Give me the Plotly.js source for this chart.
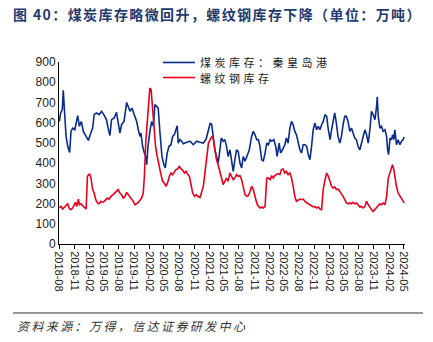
<!DOCTYPE html>
<html>
<head>
<meta charset="utf-8">
<script src="https://cdn.plot.ly/plotly-3.0.1.min.js"></script>
<style>
html,body{margin:0;padding:0;background:#fff;}
#chart{width:433px;height:342px;}
.gtitle{letter-spacing:1.4px;}
g.annotation[data-index="0"] text{letter-spacing:2.4px;}
g.annotation[data-index="1"] text, g.annotation[data-index="2"] text{letter-spacing:3.5px;}
</style>
</head>
<body>
<div id="chart"></div>
<script>
const coalDates = ["2018-08-03","2018-08-11","2018-08-21","2018-08-27","2018-09-03","2018-09-13","2018-09-23","2018-10-05","2018-10-13","2018-10-23","2018-11-05","2018-11-13","2018-11-23","2018-12-03","2018-12-15","2018-12-27","2019-01-13","2019-01-27","2019-02-07","2019-02-22","2019-03-03","2019-03-17","2019-04-03","2019-04-17","2019-05-01","2019-05-17","2019-05-27","2019-06-07","2019-06-17","2019-07-03","2019-07-17","2019-07-27","2019-08-07","2019-08-17","2019-09-01","2019-09-17","2019-09-27","2019-10-07","2019-10-19","2019-11-01","2019-11-17","2019-11-27","2019-12-07","2019-12-13","2019-12-23","2020-01-03","2020-01-11","2020-01-17","2020-01-25","2020-02-07","2020-02-17","2020-02-27","2020-03-07","2020-03-17","2020-03-27","2020-04-07","2020-04-19","2020-05-01","2020-05-09","2020-05-21","2020-06-01","2020-06-13","2020-06-23","2020-07-03","2020-07-13","2020-07-21","2020-07-27","2020-08-07","2020-08-17","2020-08-27","2020-09-17","2020-10-07","2020-10-27","2020-11-17","2020-12-07","2020-12-27","2021-01-13","2021-01-27","2021-02-07","2021-02-16","2021-02-25","2021-03-07","2021-03-17","2021-03-27","2021-04-07","2021-04-15","2021-04-27","2021-05-07","2021-05-17","2021-05-27","2021-06-07","2021-06-17","2021-06-27","2021-07-07","2021-07-17","2021-07-27","2021-08-07","2021-08-17","2021-08-27","2021-09-07","2021-09-17","2021-10-03","2021-10-17","2021-10-27","2021-11-07","2021-11-17","2021-11-27","2021-12-07","2021-12-17","2021-12-27","2022-01-07","2022-01-17","2022-01-27","2022-02-07","2022-02-16","2022-03-01","2022-03-13","2022-03-21","2022-04-03","2022-04-11","2022-04-23","2022-05-07","2022-05-17","2022-05-27","2022-06-07","2022-06-17","2022-06-27","2022-07-07","2022-07-17","2022-07-27","2022-08-07","2022-08-17","2022-08-27","2022-09-07","2022-09-17","2022-09-27","2022-10-07","2022-10-17","2022-10-27","2022-11-07","2022-11-17","2022-11-27","2022-12-07","2022-12-17","2022-12-27","2023-01-07","2023-01-17","2023-01-27","2023-02-07","2023-02-16","2023-02-25","2023-03-07","2023-03-17","2023-03-27","2023-04-07","2023-04-17","2023-04-27","2023-05-07","2023-05-17","2023-05-27","2023-06-07","2023-06-17","2023-06-27","2023-07-07","2023-07-17","2023-07-27","2023-08-07","2023-08-17","2023-08-27","2023-09-07","2023-09-17","2023-09-27","2023-10-07","2023-10-17","2023-10-27","2023-11-07","2023-11-17","2023-11-21","2023-11-27","2023-12-07","2023-12-17","2023-12-27","2024-01-07","2024-01-17","2024-01-23","2024-01-29","2024-02-07","2024-02-16","2024-02-22","2024-03-01","2024-03-07","2024-03-17","2024-03-27","2024-04-07","2024-04-17","2024-04-27","2024-05-03"];
const coalStock = [606,648,664,760,664,532,483,453,557,573,565,595,635,582,606,557,532,512,540,573,640,648,640,656,640,615,573,536,615,623,651,606,549,590,606,700,681,656,672,640,606,565,532,549,483,450,433,392,483,565,606,582,689,681,672,549,433,392,376,450,483,491,532,540,573,585,499,516,508,496,503,508,491,508,503,499,519,565,598,590,532,466,433,400,466,524,508,516,483,433,466,400,359,417,466,458,400,376,433,409,433,466,532,557,540,516,516,483,417,409,450,499,491,516,508,516,483,433,499,450,466,491,524,499,573,606,590,557,540,499,466,450,491,491,483,442,417,483,565,598,565,582,565,590,606,640,631,565,516,565,598,648,598,532,499,532,590,631,631,606,557,573,549,524,516,483,466,499,524,565,540,499,565,656,640,615,681,728,631,573,582,557,565,532,466,442,524,516,540,516,565,491,516,491,508,516,529];

const rebarDates = ["2018-08-03","2018-08-13","2018-08-23","2018-09-03","2018-09-13","2018-09-23","2018-10-01","2018-10-11","2018-10-23","2018-11-03","2018-11-09","2018-11-17","2018-11-27","2018-12-03","2018-12-13","2018-12-23","2019-01-03","2019-01-13","2019-01-21","2019-02-03","2019-02-12","2019-02-22","2019-03-03","2019-03-13","2019-03-23","2019-04-03","2019-04-13","2019-04-23","2019-05-03","2019-05-13","2019-05-23","2019-06-03","2019-06-13","2019-06-27","2019-07-13","2019-07-27","2019-08-07","2019-08-17","2019-08-27","2019-09-07","2019-09-17","2019-09-27","2019-10-07","2019-10-17","2019-10-27","2019-11-07","2019-11-17","2019-11-27","2019-12-07","2019-12-17","2019-12-27","2020-01-03","2020-01-11","2020-01-19","2020-01-27","2020-02-05","2020-02-13","2020-02-22","2020-03-01","2020-03-11","2020-03-21","2020-04-01","2020-04-13","2020-04-23","2020-05-03","2020-05-13","2020-05-23","2020-06-03","2020-06-13","2020-06-23","2020-07-03","2020-07-13","2020-07-23","2020-08-03","2020-08-13","2020-08-23","2020-09-03","2020-09-13","2020-09-23","2020-10-03","2020-10-13","2020-10-23","2020-11-03","2020-11-13","2020-11-23","2020-12-07","2020-12-27","2021-01-17","2021-01-27","2021-02-07","2021-02-16","2021-02-25","2021-03-07","2021-03-17","2021-03-27","2021-04-07","2021-04-17","2021-04-27","2021-05-07","2021-05-17","2021-05-27","2021-06-07","2021-06-17","2021-06-27","2021-07-07","2021-07-17","2021-07-27","2021-08-07","2021-08-17","2021-08-27","2021-09-07","2021-09-17","2021-09-27","2021-10-07","2021-10-17","2021-10-27","2021-11-07","2021-11-17","2021-11-27","2021-12-07","2021-12-17","2021-12-27","2022-01-07","2022-01-17","2022-01-27","2022-02-07","2022-02-16","2022-02-26","2022-03-07","2022-03-17","2022-03-27","2022-04-07","2022-04-17","2022-04-27","2022-05-07","2022-05-17","2022-05-27","2022-06-07","2022-06-17","2022-06-27","2022-07-07","2022-07-17","2022-07-27","2022-08-07","2022-08-17","2022-08-27","2022-09-07","2022-09-17","2022-09-27","2022-10-07","2022-10-17","2022-10-27","2022-11-07","2022-11-17","2022-11-27","2022-12-07","2022-12-17","2022-12-27","2023-01-07","2023-01-17","2023-01-27","2023-02-07","2023-02-16","2023-02-25","2023-03-07","2023-03-17","2023-03-27","2023-04-07","2023-04-17","2023-04-27","2023-05-07","2023-05-17","2023-05-27","2023-06-07","2023-06-17","2023-06-27","2023-07-07","2023-07-17","2023-07-27","2023-08-07","2023-08-17","2023-08-27","2023-09-07","2023-09-17","2023-09-27","2023-10-07","2023-10-17","2023-10-27","2023-11-07","2023-11-17","2023-11-27","2023-12-07","2023-12-17","2023-12-27","2024-01-07","2024-01-17","2024-01-27","2024-02-07","2024-02-16","2024-02-22","2024-03-01","2024-03-07","2024-03-17","2024-03-27","2024-04-07","2024-04-17","2024-04-27","2024-05-03"];
const rebarStock = [178,186,173,183,194,199,178,170,178,194,206,186,222,194,199,190,178,173,335,348,326,269,252,219,203,199,211,206,211,219,227,222,236,244,260,269,252,244,227,236,255,244,236,227,211,194,199,206,216,227,252,335,499,598,714,771,763,664,565,483,433,384,343,310,302,285,302,335,351,343,354,368,371,384,371,364,351,359,343,335,294,252,236,244,236,230,285,417,499,516,529,524,466,417,392,359,326,294,310,326,310,351,335,318,326,343,335,338,318,285,244,236,239,260,285,269,227,203,186,178,183,178,186,326,326,318,338,326,338,343,348,343,368,371,351,359,343,351,326,285,236,211,216,222,219,222,211,203,199,194,186,183,186,178,183,173,170,269,318,351,335,302,285,277,282,269,272,260,249,236,219,203,199,203,199,206,199,203,194,183,186,178,186,211,194,178,170,161,170,178,186,199,194,203,194,236,326,359,384,392,368,335,285,252,236,227,211,203];

const seriesNames = ["煤炭库存：秦皇岛港", "螺纹钢库存"];
const seriesColors = ["#0a2c8c", "#e8001c"];
const titleText = "图 40：煤炭库存略微回升，螺纹钢库存下降（单位：万吨）";
const sourceText = "资料来源：万得，信达证券研发中心";

const traces = [
  {x: coalDates, y: coalStock, name: seriesNames[0], type: "scatter", mode: "lines",
   line: {color: seriesColors[0], width: 1.6}},
  {x: rebarDates, y: rebarStock, name: seriesNames[1], type: "scatter", mode: "lines",
   line: {color: seriesColors[1], width: 1.6}}
];

// legend drawn as paper-positioned key lines and labels
const legendY = [0.9973, 0.9148];
const legendShapes = seriesNames.map((n, i) => ({type: "line", xref: "paper", yref: "paper",
  x0: 0.3006, x1: 0.393, y0: legendY[i], y1: legendY[i], line: {color: seriesColors[i], width: 1.6}}));
const legendLabels = seriesNames.map((n, i) => ({text: n, xref: "paper", yref: "paper",
  x: 0.4046, y: legendY[i], xanchor: "left", yanchor: "middle", align: "left", showarrow: false,
  borderpad: 0, font: {family: "Noto Sans CJK SC", size: 11, color: "#222"}}));

const layout = {
  width: 433, height: 342,
  margin: {l: 59, r: 28, t: 62, b: 98},
  paper_bgcolor: "#fff", plot_bgcolor: "#fff",
  font: {family: "Liberation Sans, Arial, sans-serif", size: 11, color: "#222"},
  title: {text: titleText, font: {family: "Noto Sans CJK SC", size: 14, color: "#1f3a6e", weight: "bold"},
          xref: "container", yref: "container", x: 0.03, xanchor: "left", y: 0.955, yanchor: "middle"},
  showlegend: false,
  xaxis: {type: "date", range: ["2018-08-01", "2024-05-08"], tick0: "2018-08-01", dtick: "M3",
          tickformat: "%Y-%m", tickangle: 90, ticks: "outside", ticklen: 4, tickcolor: "#000",
          showline: true, linecolor: "#000", linewidth: 1, showgrid: false, zeroline: false,
          tickfont: {size: 11, color: "#222"}},
  yaxis: {range: [0, 900], dtick: 100, showline: true, linecolor: "#000", linewidth: 1,
          showgrid: false, zeroline: false, ticks: "", tickfont: {size: 12, color: "#222"}},
  shapes: [{type: "line", xref: "paper", yref: "paper", x0: -0.133, x1: 1.052, y0: -0.379, y1: -0.379,
            line: {color: "#333", width: 1}}].concat(legendShapes),
  annotations: [{text: sourceText, xref: "paper", yref: "paper", x: -0.127, y: -0.39, xanchor: "left", yanchor: "top",
                 align: "left", showarrow: false,
                 font: {family: "Noto Sans CJK SC", size: 12, color: "#333", style: "italic"}}].concat(legendLabels)
};

Plotly.newPlot("chart", traces, layout, {displayModeBar: false, staticPlot: true});
</script>
</body>
</html>
